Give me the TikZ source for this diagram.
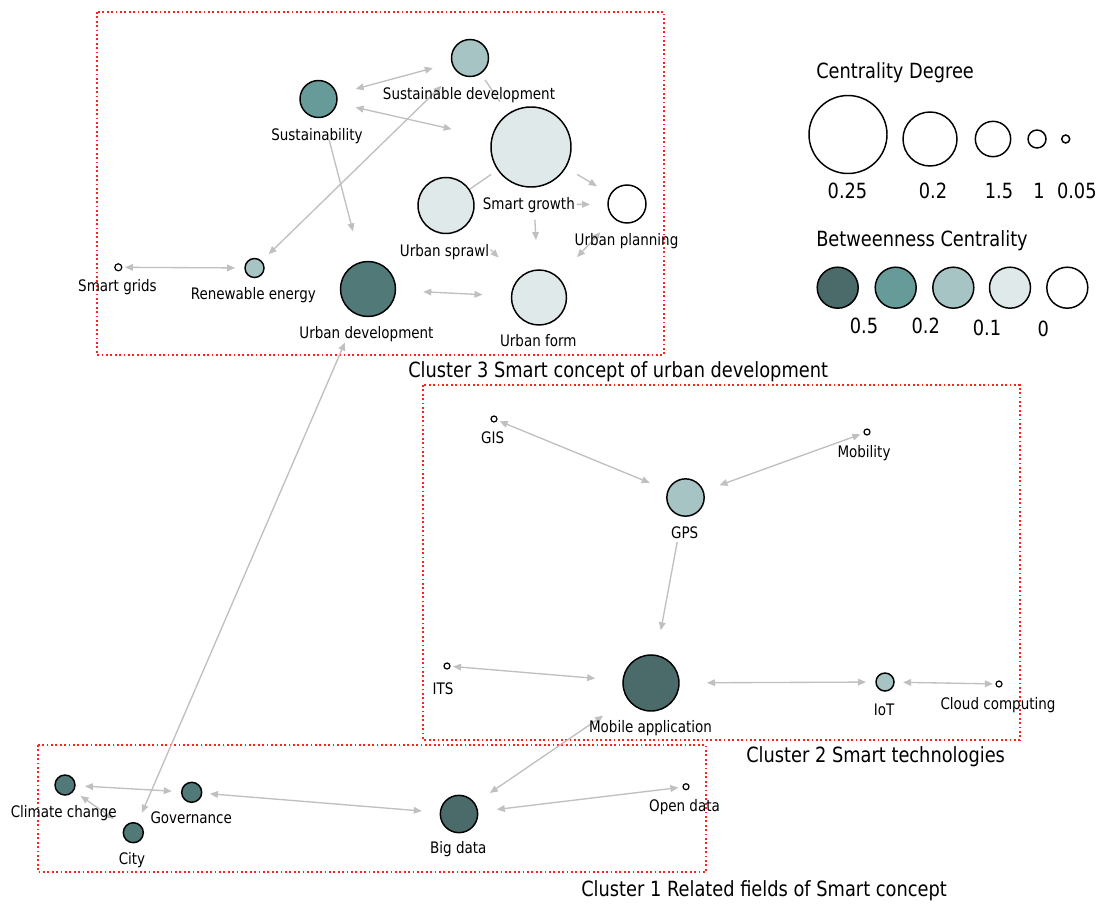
\documentclass[tikz,border=0pt]{standalone}
\usepackage{fontspec}
\setmainfont{DejaVu Sans}[FakeStretch=0.85]
\usetikzlibrary{arrows.meta}
\definecolor{edgec}{HTML}{C0C0C0}
\definecolor{cfive}{HTML}{4A6B69}
\definecolor{cud}{HTML}{517977}
\definecolor{ctwo}{HTML}{679B99}
\definecolor{cone}{HTML}{A6C4C3}
\definecolor{clow}{HTML}{E0E9E9}
\definecolor{boxred}{HTML}{FF2020}
\newcommand{\lblf}{\fontsize{11.9pt}{14pt}\selectfont}
\newcommand{\bigf}{\fontsize{15.7pt}{18pt}\selectfont}
\tikzset{
  nd/.style={circle, draw=black, line width=1.1pt, inner sep=0pt, outer sep=0pt, minimum size=#1},
  lbl/.style={font=\lblf, inner sep=0pt, anchor=base},
  leg/.style={font=\bigf, inner sep=0pt, anchor=base},
  ed/.style={draw=edgec, line width=1pt},
  bi/.style={ed, {Triangle[length=6pt,width=5pt]}-{Triangle[length=6pt,width=5pt]}},
  uni/.style={ed, -{Triangle[length=6pt,width=5pt]}},
  plain/.style={ed},
  clbox/.style={draw=boxred, line width=1.1pt, dash pattern=on 1.4pt off 1.9pt},
}
\begin{document}
\begin{tikzpicture}[x=0.75pt, y=-0.75pt]
\useasboundingbox[fill=white] (0,0) rectangle (1102,903);

% cluster boxes
\draw[clbox] (97,12) rectangle (664,355);
\draw[clbox] (423,385) rectangle (1020,740);
\draw[clbox] (38,745) rectangle (706,872);

% nodes cluster 3
\node[nd={27.75pt}, fill=cone] (sd) at (470,58) {};
\node[nd={27.75pt}, fill=ctwo] (sust) at (318.5,99) {};
\node[nd={60pt}, fill=clow] (sg) at (531,147) {};
\node[nd={42pt}, fill=clow] (us) at (446,205.5) {};
\node[nd={28.5pt}, fill=white] (up) at (627,204) {};
\node[nd={41.25pt}, fill=clow] (uf) at (539,297.5) {};
\node[nd={41.25pt}, fill=cud] (ud) at (368,289) {};
\node[nd={14.25pt}, fill=cone] (re) at (254.5,268) {};
\node[nd={5.25pt}, fill=white, line width=0.9pt] (sgr) at (118.3,267.3) {};

% nodes cluster 2
\node[nd={4.5pt}, fill=white, line width=0.9pt] (gis) at (494,419) {};
\node[nd={4.5pt}, fill=white, line width=0.9pt] (mob) at (867,432) {};
\node[nd={28pt}, fill=cone] (gps) at (685.5,497.5) {};
\node[nd={42pt}, fill=cfive] (ma) at (651,683) {};
\node[nd={4.5pt}, fill=white, line width=0.9pt] (its) at (447,666) {};
\node[nd={13.5pt}, fill=cone] (iot) at (885,682) {};
\node[nd={4.5pt}, fill=white, line width=0.9pt] (cc) at (999,684) {};

% nodes cluster 1
\node[nd={15pt}, fill=cud] (clc) at (65,785) {};
\node[nd={15pt}, fill=cud] (gov) at (191.7,792.3) {};
\node[nd={15pt}, fill=cud] (city) at (133.3,832.7) {};
\node[nd={28pt}, fill=cfive] (bd) at (459,814) {};
\node[nd={4.5pt}, fill=white, line width=0.9pt] (od) at (686,786.7) {};

% edges
\draw[bi, shorten <=15pt, shorten >=15pt] (sust) -- (sd);
\draw[bi, shorten <=14.6pt, shorten >=31pt] (sust) -- (sg);
\draw[bi, shorten <=16pt, shorten >=7.7pt] (sd) -- (re);
\draw[uni, shorten <=17.6pt, shorten >=24pt] (sust) -- (ud);
\draw[plain, shorten <=6pt, shorten >=11.3pt] (sd) -- (sg);
\draw[plain, shorten <=0.75pt, shorten >=6.4pt] (us) -- (sg);
\draw[uni, shorten <=10.2pt, shorten >=12pt] (sg) -- (up);
\draw[uni, shorten <=77pt, shorten >=13.5pt] (us) -- (up);
\draw[uni, shorten <=24.8pt, shorten >=22.5pt] (sg) -- (uf);
\draw[uni, shorten <=26pt, shorten >=22pt] (us) -- (uf);
\draw[bi, shorten <=14.8pt, shorten >=21pt] (up) -- (uf);
\draw[bi, shorten <=20.9pt, shorten >=21.8pt] (ud) -- (uf);
\draw[bi, shorten <=2.4pt, shorten >=7.5pt] (sgr) -- (re);
\draw[bi, shorten <=23pt, shorten >=8.8pt] (ud) -- (city);
\draw[bi, shorten <=2.3pt, shorten >=15pt] (gis) -- (gps);
\draw[bi, shorten <=13.1pt, shorten >=3pt] (gps) -- (mob);
\draw[uni, shorten <=20pt, shorten >=19.2pt] (gps) -- (ma);
\draw[bi, shorten <=2.3pt, shorten >=21pt] (its) -- (ma);
\draw[bi, shorten <=21pt, shorten >=7.5pt] (ma) -- (iot);
\draw[bi, shorten <=6.8pt, shorten >=2.3pt] (iot) -- (cc);
\draw[bi, shorten <=7.5pt, shorten >=7.5pt] (clc) -- (gov);
\draw[bi, shorten <=10.5pt, shorten >=6.8pt] (city) -- (clc);
\draw[bi, shorten <=6.2pt, shorten >=14pt] (gov) -- (bd);
\draw[bi, shorten <=22.5pt, shorten >=14pt] (ma) -- (bd);
\draw[bi, shorten <=14.5pt, shorten >=3.5pt] (bd) -- (od);

% labels
\node[lbl] (lsd) at (469,99) {Sustainable development};
\node[lbl] (lsust) at (317,140) {Sustainability};
\node[lbl] (lsg) at (528.8,209) {Smart growth};
\node[lbl] (lus) at (444.5,256) {Urban sprawl};
\node[lbl] (lup) at (626.5,245) {Urban planning};
\node[lbl] (luf) at (538.3,346.7) {Urban form};
\node[lbl] (lud) at (366.5,338.3) {Urban development};
\node[lbl] (lre) at (253.3,299.3) {Renewable energy};
\node[lbl] (lsgr) at (117.5,291.7) {Smart grids};
\node[lbl] (lgis) at (492.7,443.3) {GIS};
\node[lbl] (lmob) at (864,457) {Mobility};
\node[lbl] (lgps) at (684.7,538.3) {GPS};
\node[lbl] (lits) at (443,694) {ITS};
\node[lbl] (lma) at (650.5,732) {Mobile application};
\node[lbl] (liot) at (884,715) {IoT};
\node[lbl] (lcc) at (998,709) {Cloud computing};
\node[lbl] (lclc) at (63.7,817.3) {Climate change};
\node[lbl] (lgov) at (191.2,823.3) {Governance};
\node[lbl] (lcity) at (132,864) {City};
\node[lbl] (lbd) at (458.3,853.3) {Big data};
\node[lbl] (lod) at (684.5,811.7) {Open data};

% cluster titles
\node[leg, anchor=base west] (t3) at (408,377) {Cluster 3 Smart concept of urban development};
\node[leg, anchor=base west] (t2) at (746,762) {Cluster 2 Smart technologies};
\node[leg, anchor=base west] (t1) at (581,896) {Cluster 1 Related fields of Smart concept};

% legend
\node[leg, anchor=base west] (tcd) at (816,78.3) {Centrality Degree};
\node[nd={58.5pt}, fill=white] (d1) at (848,134.5) {};
\node[nd={40.5pt}, fill=white] (d2) at (930,139) {};
\node[nd={26.5pt}, fill=white] (d3) at (993,139) {};
\node[nd={13.5pt}, fill=white] (d4) at (1037,139) {};
\node[nd={6pt}, fill=white] (d5) at (1065.7,139) {};
\node[leg] (ld1) at (847.5,198.3) {0.25};
\node[leg] (ld2) at (933,198.3) {0.2};
\node[leg] (ld3) at (999,198.3) {1.5};
\node[leg] (ld4) at (1039,198.3) {1};
\node[leg] (ld5) at (1076.8,198.3) {0.05};

\node[leg, anchor=base west] (tbc) at (816,246.7) {Betweenness Centrality};
\node[nd={30.75pt}, fill=cfive] (b1) at (837.7,287.7) {};
\node[nd={30.75pt}, fill=ctwo] (b2) at (895.7,287.7) {};
\node[nd={30.75pt}, fill=cone] (b3) at (953.3,287.7) {};
\node[nd={30.75pt}, fill=clow] (b4) at (1010,287.7) {};
\node[nd={30.75pt}, fill=white] (b5) at (1067.3,287.7) {};
\node[leg] (lb1) at (864,333.3) {0.5};
\node[leg] (lb2) at (925.8,333.3) {0.2};
\node[leg] (lb3) at (987,335) {0.1};
\node[leg] (lb4) at (1043.3,336) {0};
\end{tikzpicture}
\end{document}
